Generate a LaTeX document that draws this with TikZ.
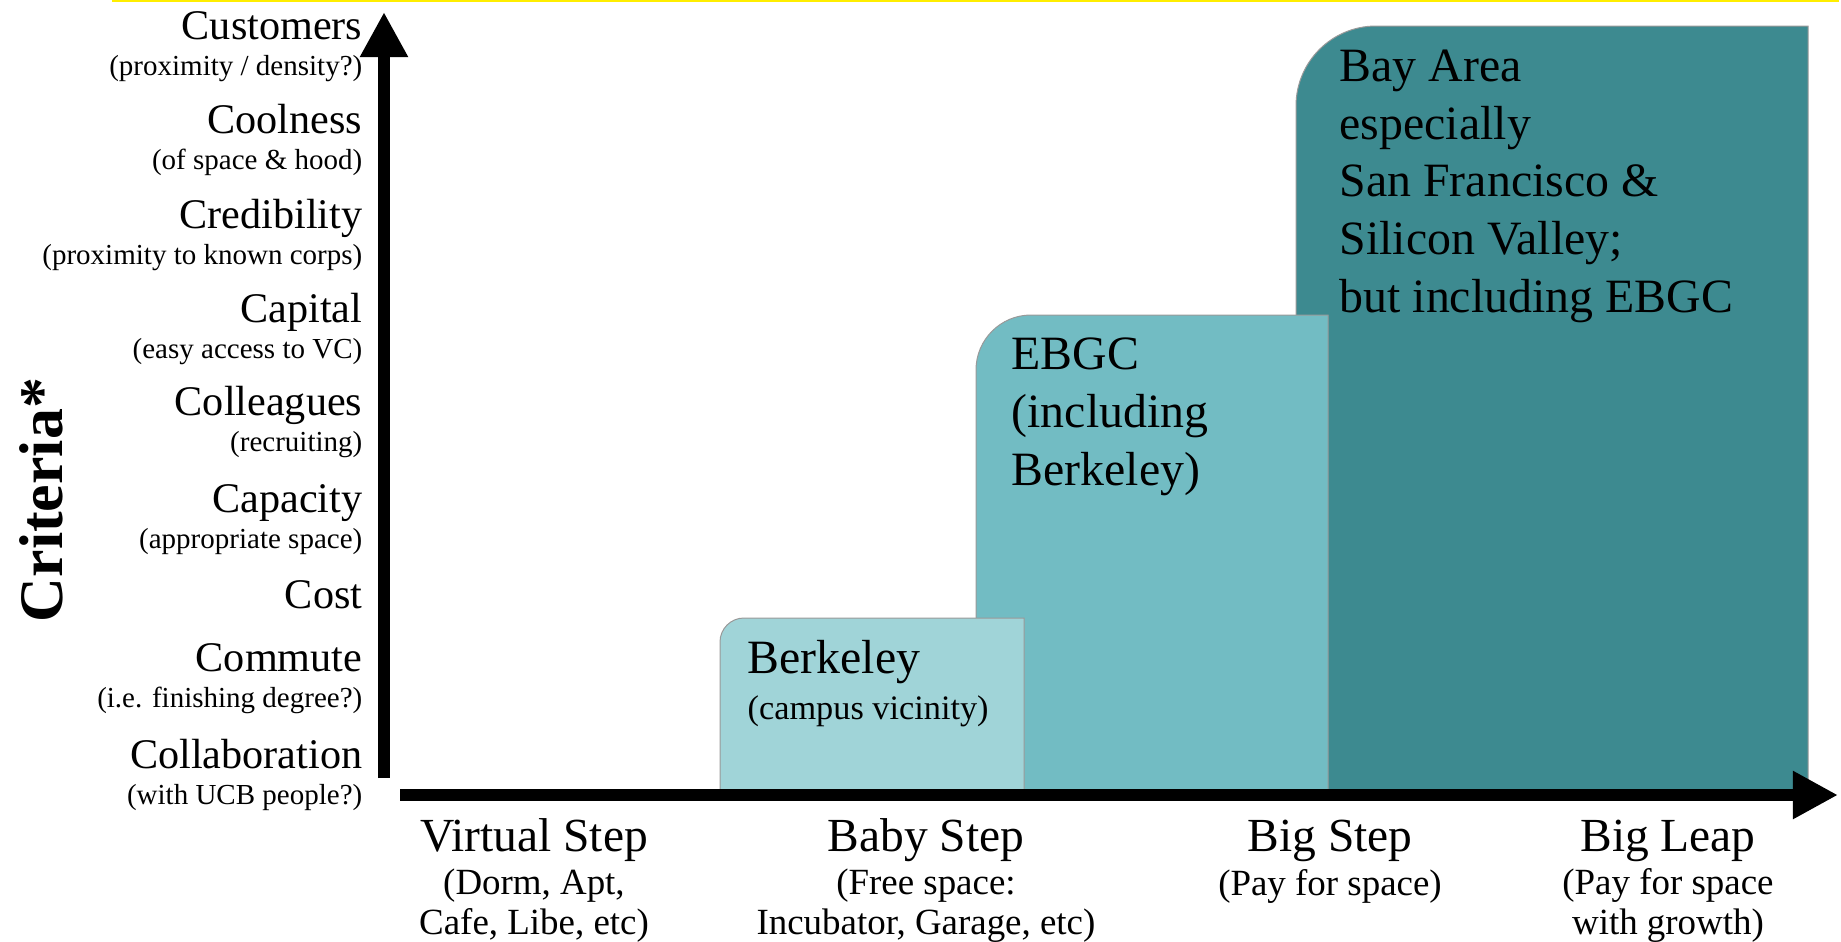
\documentclass[tikz,border=0pt]{standalone}
\usepackage{fontspec}
\setmainfont{Liberation Serif}
\usetikzlibrary{arrows.meta,positioning}

\definecolor{bayteal}{RGB}{61,138,144}
\definecolor{ebgcteal}{RGB}{114,188,195}
\definecolor{berkteal}{RGB}{160,212,216}
\definecolor{topline}{RGB}{255,238,0}

\tikzset{
  crit/.style={anchor=base east, inner sep=0pt, font=\fontsize{12}{14}\selectfont},
  critnote/.style={anchor=base east, inner sep=0pt, font=\fontsize{8.25}{10}\selectfont},
  area/.style={draw=black!40, line width=0.01cm},
  areatext/.style={anchor=base west, inner sep=0pt, align=left, font=\fontsize{13.6}{16.37}\selectfont},
  stagetitle/.style={anchor=base, inner sep=0pt, font=\fontsize{13.5}{16}\selectfont},
  stagenote/.style={anchor=base, inner sep=0pt, align=center, font=\fontsize{10.5}{11.1}\selectfont},
  axis/.style={line width=0.12cm, -{Triangle[length=0.45cm, width=0.45cm]}}
}

\begin{document}
\begin{tikzpicture}[x=0.01cm, y=-0.01cm]
\useasboundingbox (0,0) rectangle (1841,941);
\draw[topline, line width=0.02cm] (112,0.5) -- (1839,0.5);

% areas, biggest first
\draw[area, fill=bayteal] (1296,792) -- (1296,106) arc[start angle=180, end angle=270, radius=80] -- (1808,26) -- (1808,792) -- cycle;
\draw[area, fill=ebgcteal] (976,792) -- (976,370) arc[start angle=180, end angle=270, radius=55] -- (1328,315) -- (1328,792) -- cycle;
\draw[area, fill=berkteal] (720,792) -- (720,642) arc[start angle=180, end angle=270, radius=24] -- (1024,618) -- (1024,792) -- cycle;

% multi-line nodes sit on their last line
\node[areatext] (bay) at (1339,312) {Bay Area\\especially\\San Francisco \&\\Silicon Valley;\\but including EBGC};
\node[areatext] (ebgc) at (1011,485) {EBGC\\(including\\Berkeley)};
\node[areatext] (berk) at (747,673) {Berkeley};
\node[anchor=base west, inner sep=0pt, font=\fontsize{9.75}{12}\selectfont] (berknote) at (747,719) {(campus vicinity)};

% axes
\draw[axis] (384,778) -- (384,12);
\draw[axis] (400,795) -- (1838,795);

% criteria
\foreach \n/\y/\name/\note in {1/39/Customers/{(proximity / density?)},
    2/133/Coolness/{(of space \& hood)},
    3/228/Credibility/{(proximity to known corps)},
    4/322/Capital/{(easy access to VC)},
    5/415/Colleagues/{(recruiting)},
    6/512/Capacity/{(appropriate space)},
    8/671/Commute/{(i.e. finishing degree?)},
    9/768/Collaboration/{(with UCB people?)}}{
  \node[crit] (crit\n) at (363,\y) {\name};
  \node[critnote] (crit\n note) at (363,\y+36) {\note};
}
\node[crit] (crit7) at (363,608) {Cost};

\node[rotate=90, anchor=base, inner sep=0pt, font=\bfseries\fontsize{17.6}{20}\selectfont] (criteria) at (63,500) {Criteria*};

% stages
\foreach \n/\x/\ny/\name/\note in {1/534/934/Virtual Step/{(Dorm, Apt,\\Cafe, Libe, etc)},
    2/926/934/Baby Step/{(Free space:\\Incubator, Garage, etc)},
    3/1330/895/Big Step/{(Pay for space)},
    4/1668/934/Big Leap/{(Pay for space\\with growth)}}{
  \node[stagetitle] (stage\n) at (\x,851) {\name};
  \node[stagenote] (stage\n note) at (\x,\ny) {\note};
}
\end{tikzpicture}
\end{document}
